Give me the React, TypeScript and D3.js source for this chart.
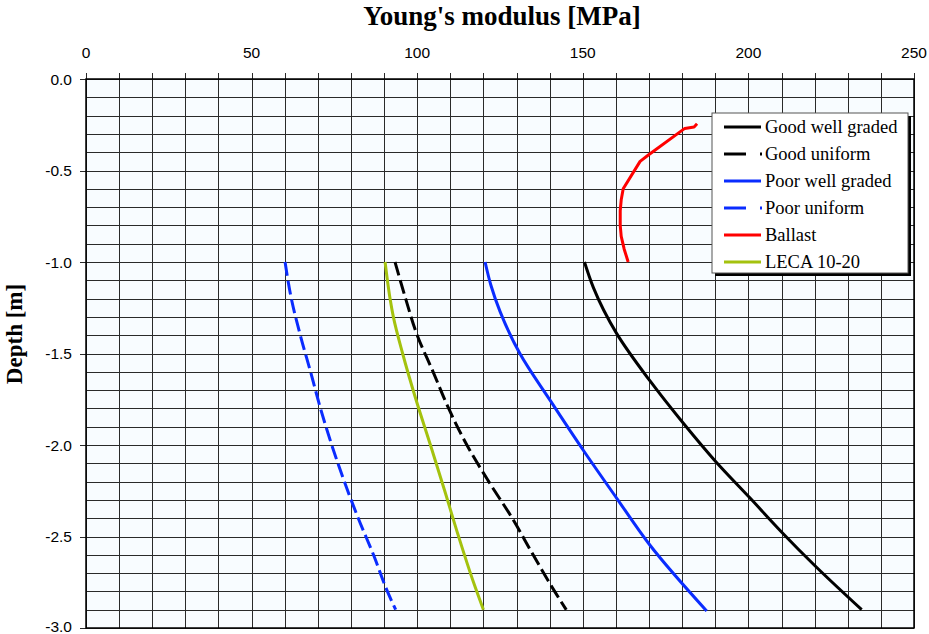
import React from 'react';
import * as d3 from 'd3';

// Young's modulus [MPa] vs depth [m]
const goodWellDepth = [-1.0, -1.14, -1.39, -1.65, -1.88, -2.09, -2.29, -2.475, -2.66, -2.9];
const goodWellE = [150.5, 153.2, 160.2, 170.3, 180.3, 190.1, 200.5, 210.0, 220.1, 234.2];

const goodUniDepth = [-1.0, -1.2, -1.4, -1.6, -1.8, -2.0, -2.2, -2.4, -2.6, -2.8, -2.9];
const goodUniE = [93.3, 96.5, 100.0, 104.8, 109.5, 115.0, 121.6, 128.7, 135.0, 141.5, 145.0];

const poorWellDepth = [-1.0, -1.13, -1.27, -1.5, -1.755, -2.03, -2.29, -2.548, -2.907];
const poorWellE = [120.5, 122.3, 125.0, 131.0, 140.1, 150.2, 160.2, 170.3, 187.4];

const poorUniDepth = [-1.0, -1.2, -1.4, -1.6, -1.8, -2.0, -2.2, -2.4, -2.6, -2.8, -2.9];
const poorUniE = [60.1, 62.0, 64.7, 67.8, 70.8, 74.2, 78.0, 82.2, 86.8, 91.0, 93.5];

const ballastDepth = [-0.245, -0.262, -0.27, -0.415, -0.45, -0.6, -0.66, -0.72, -0.8, -0.86, -0.93, -1.0];
const ballastE = [184.5, 183.6, 180.8, 169.8, 167.3, 162.2, 161.6, 161.3, 161.3, 161.6, 162.5, 163.7];

const lecaDepth = [-1.0, -1.1, -1.2, -1.3, -1.5, -1.75, -2.0, -2.25, -2.5, -2.75, -2.9];
const lecaE = [90.3, 91.0, 91.8, 92.8, 95.6, 99.6, 104.0, 108.3, 112.5, 117.0, 120.0];

const xTicks = [0, 50, 100, 150, 200, 250];
const yTicks = [0, -0.5, -1.0, -1.5, -2.0, -2.5, -3.0];

const series = [
  { name: 'Good well graded', color: '#000000', dash: null, e: goodWellE, d: goodWellDepth, smooth: true },
  { name: 'Good uniform', color: '#000000', dash: '14,5', e: goodUniE, d: goodUniDepth, smooth: true },
  { name: 'Poor well graded', color: '#0a2cff', dash: null, e: poorWellE, d: poorWellDepth, smooth: true },
  { name: 'Poor uniform', color: '#0a2cff', dash: '14,5', e: poorUniE, d: poorUniDepth, smooth: true },
  { name: 'Ballast', color: '#ff0000', dash: null, e: ballastE, d: ballastDepth, smooth: false },
  { name: 'LECA 10-20', color: '#a4c20e', dash: null, e: lecaE, d: lecaDepth, smooth: true },
];

const W = 929;
const H = 634;
const left = 86;
const right = 914;
const top = 79;
const bottom = 628;

export default function App() {
  const x = d3.scaleLinear().domain([0, 250]).range([left, right]);
  const y = d3.scaleLinear().domain([0, -3]).range([top, bottom]);

  const smoothLine = d3
    .line<[number, number]>()
    .x((p) => x(p[0]))
    .y((p) => y(p[1]))
    .curve(d3.curveMonotoneY);
  const straightLine = d3
    .line<[number, number]>()
    .x((p) => x(p[0]))
    .y((p) => y(p[1]));

  const vGrid = d3.range(0, 251, 10);
  const hGrid = d3.range(0, 31).map((i) => -i / 10);

  const lgX = 712;
  const lgY = 113;
  const lgW = 196;
  const lgH = 160;

  return (
    <svg width={W} height={H} style={{ position: 'absolute', left: 0, top: 0 }}>
      <rect x={0} y={0} width={W} height={H} fill="#ffffff" />
      <rect x={left} y={top} width={right - left} height={bottom - top} fill="#f8fcff" />
      <g stroke="#2a2a2a" strokeWidth={1}>
        {vGrid.map((v) => (
          <line key={'v' + v} x1={Math.round(x(v)) + 0.5} x2={Math.round(x(v)) + 0.5} y1={top} y2={bottom} />
        ))}
        {hGrid.map((v) => (
          <line key={'h' + v} x1={left} x2={right} y1={Math.round(y(v)) + 0.5} y2={Math.round(y(v)) + 0.5} />
        ))}
        {vGrid.map((v) => (
          <line key={'t' + v} x1={Math.round(x(v)) + 0.5} x2={Math.round(x(v)) + 0.5} y1={top - 6} y2={top} />
        ))}
        {yTicks.map((v) => (
          <line key={'l' + v} x1={left - 6} x2={left} y1={Math.round(y(v)) + 0.5} y2={Math.round(y(v)) + 0.5} />
        ))}
      </g>
      <rect x={left} y={top} width={right - left} height={bottom - top} fill="none" stroke="#000" strokeWidth={1.5} />

      <g fontFamily="'Liberation Sans', Arial, sans-serif" fontSize={15.5} fill="#000">
        {xTicks.map((v) => (
          <text key={'xt' + v} x={x(v)} y={58} textAnchor="middle">{v}</text>
        ))}
        {yTicks.map((v) => (
          <text key={'yt' + v} x={72} y={Math.min(y(v) + 5.5, 632)} textAnchor="end">{v.toFixed(1)}</text>
        ))}
      </g>

      <text x={502} y={25} textAnchor="middle" fontFamily="'Liberation Serif', 'Times New Roman', serif" fontWeight="bold" fontSize={27}>
        Young's modulus [MPa]
      </text>
      <text transform="translate(22,334) rotate(-90)" textAnchor="middle" fontFamily="'Liberation Serif', 'Times New Roman', serif" fontWeight="bold" fontSize={23}>
        Depth [m]
      </text>

      <g fill="none" strokeWidth={3} strokeLinejoin="round">
        {series.map((s) => {
          const pts = s.e.map((e, i) => [e, s.d[i]] as [number, number]);
          return (
            <path
              key={s.name}
              d={(s.smooth ? smoothLine(pts) : straightLine(pts)) || ''}
              stroke={s.color}
              strokeDasharray={s.dash || undefined}
            />
          );
        })}
      </g>

      <g>
        <rect x={lgX + 3} y={lgY + 3} width={lgW} height={lgH} fill="#000" />
        <rect x={lgX} y={lgY} width={lgW} height={lgH} fill="#ffffff" stroke="#555" strokeWidth={1} />
        {series.map((s, i) => {
          const cy = lgY + 14 + i * 27;
          return (
            <g key={'lg' + s.name}>
              {s.dash ? (
                <>
                  <line x1={lgX + 12} x2={lgX + 34} y1={cy} y2={cy} stroke={s.color} strokeWidth={3} />
                  <line x1={lgX + 48} x2={lgX + 50} y1={cy} y2={cy} stroke={s.color} strokeWidth={3} />
                </>
              ) : (
                <line x1={lgX + 12} x2={lgX + 49} y1={cy} y2={cy} stroke={s.color} strokeWidth={3} />
              )}
              <text x={lgX + 53} y={cy + 6} fontFamily="'Liberation Serif', 'Times New Roman', serif" fontSize={18.5} fill="#000">
                {s.name}
              </text>
            </g>
          );
        })}
      </g>
    </svg>
  );
}
